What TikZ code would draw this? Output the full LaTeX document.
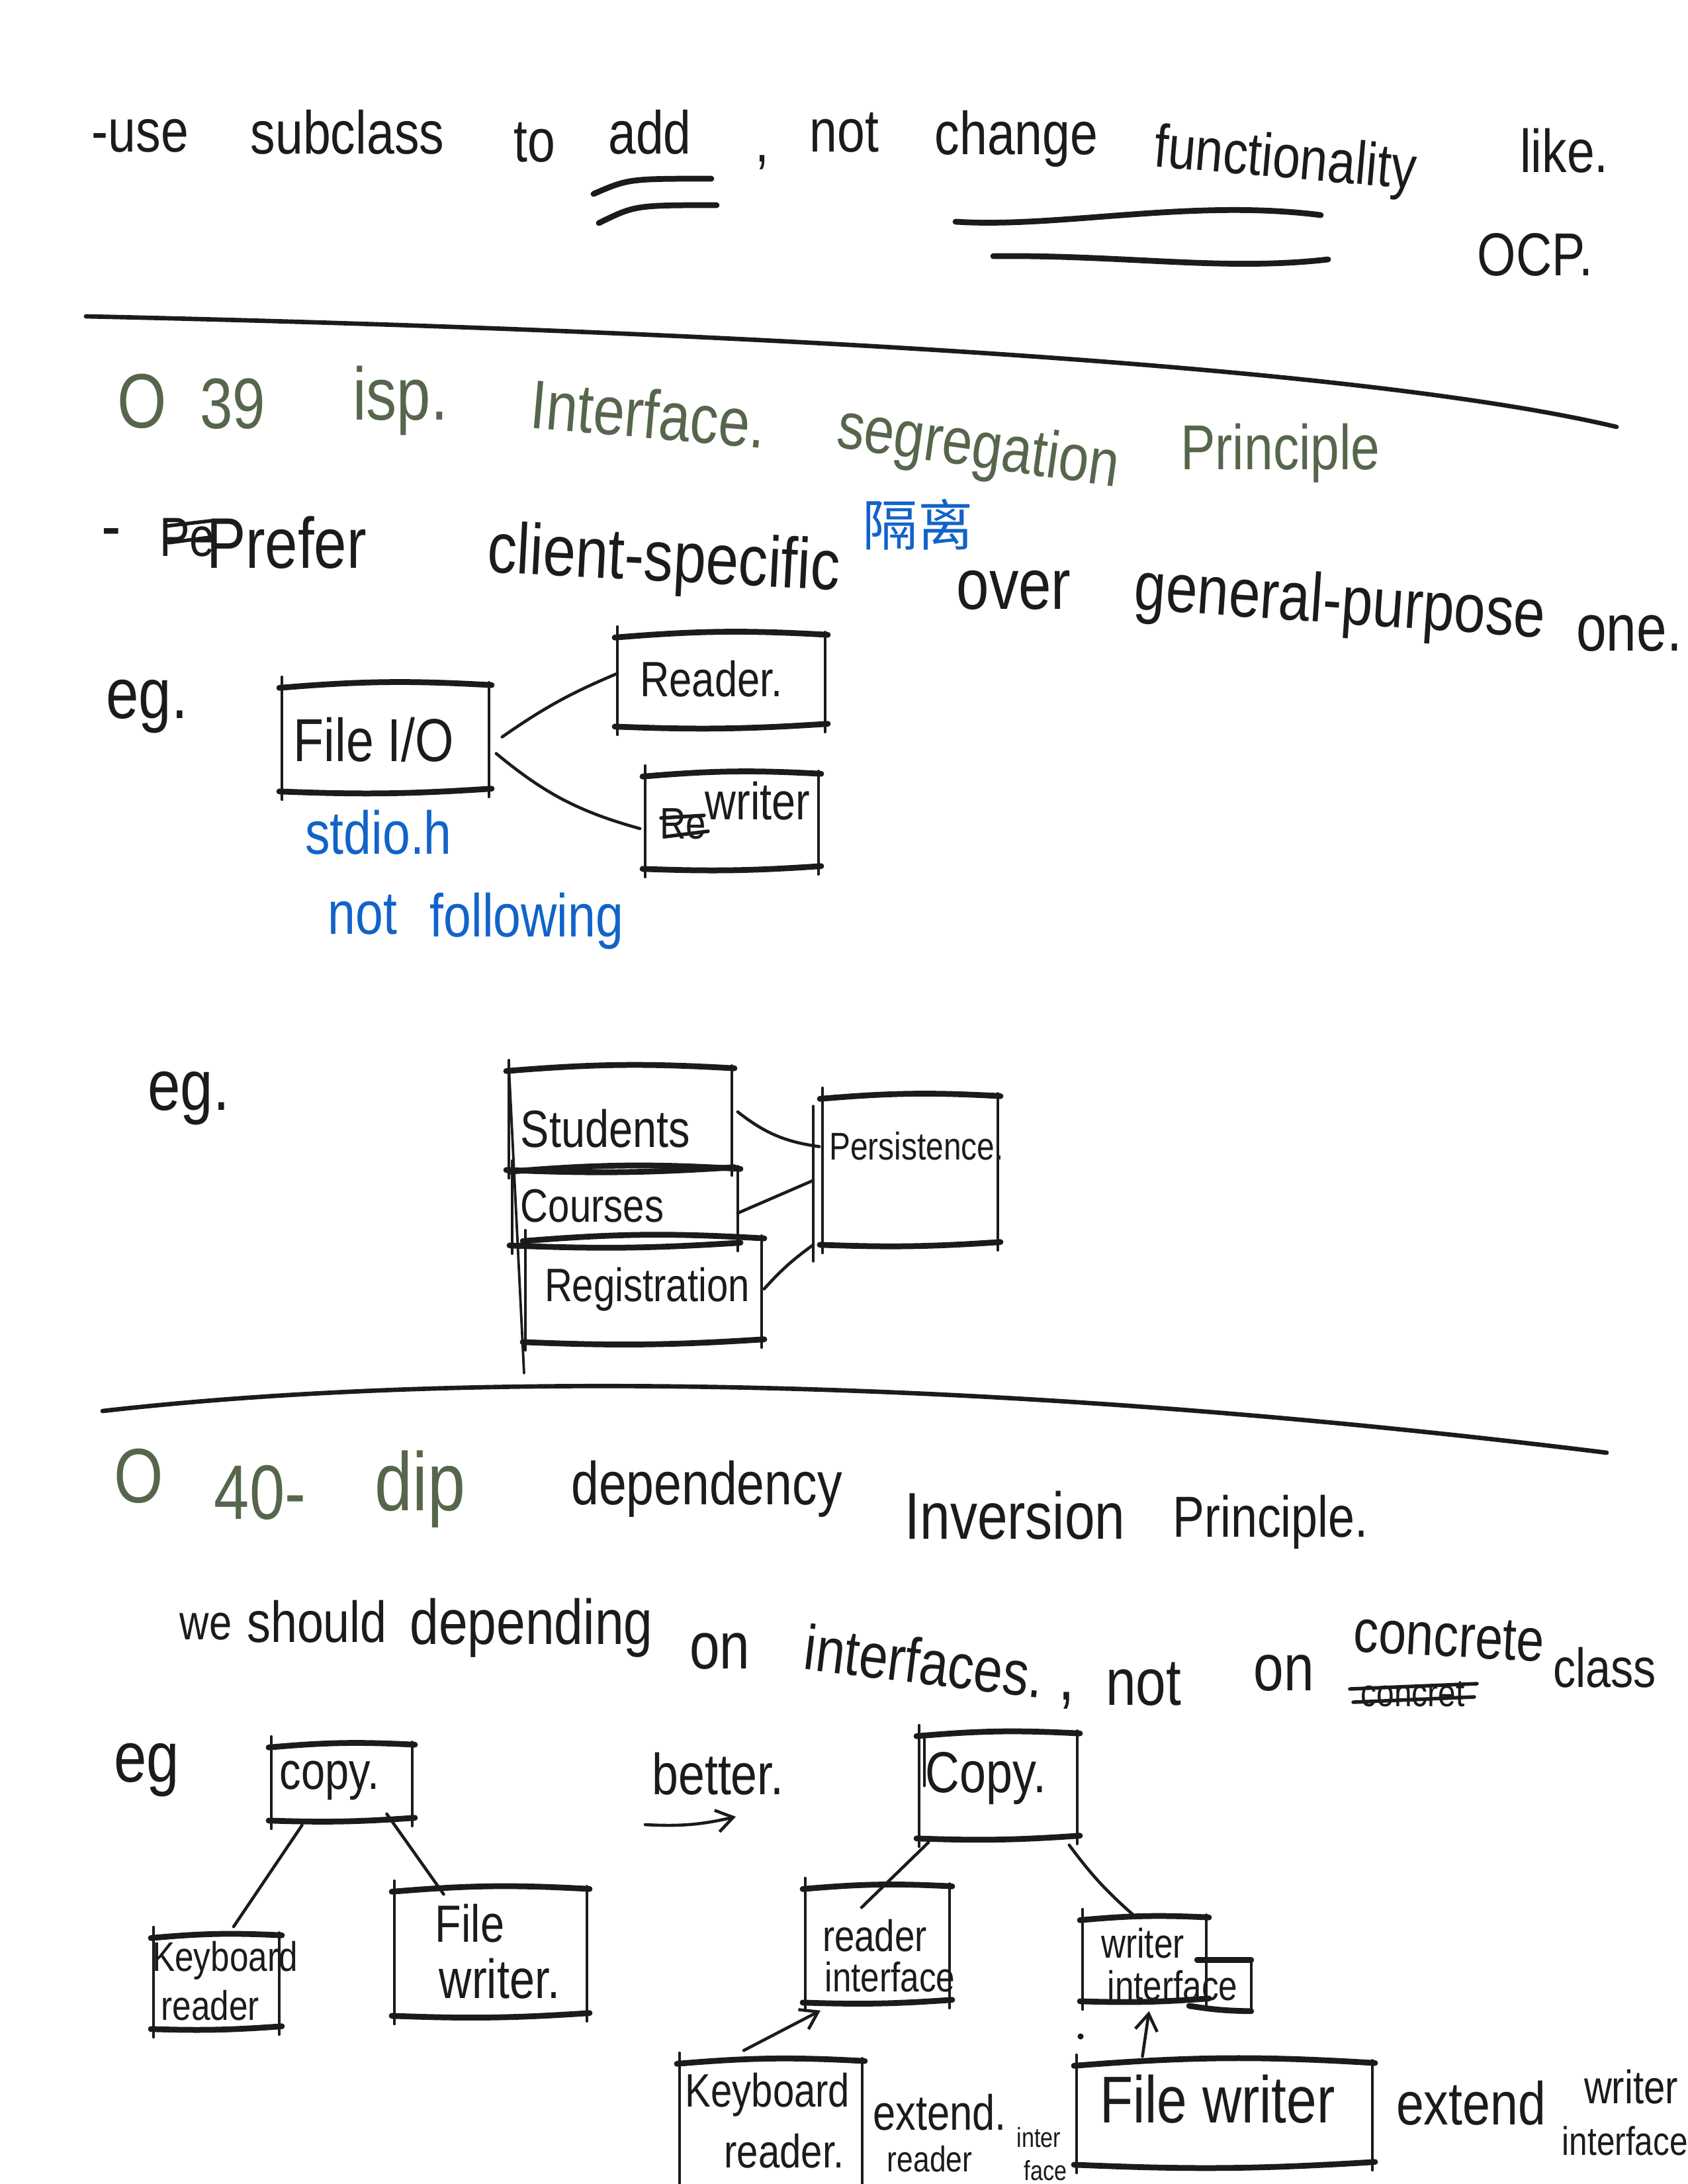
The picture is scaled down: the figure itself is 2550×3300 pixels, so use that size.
\documentclass[tikz,border=0pt]{standalone}
\usepackage{fontspec}
\usepackage{graphicx}
\setmainfont{Liberation Sans}[FakeStretch=0.82]
\newfontfamily\cjk{Noto Sans CJK SC}
\usetikzlibrary{fit,calc,arrows.meta}
\definecolor{inkc}{HTML}{1B1B1B}
\definecolor{titlegreen}{HTML}{56664C}
\definecolor{penblue}{HTML}{1263C9}
\newcommand\fs[1]{\fontsize{#1}{#1}\selectfont}
\tikzset{
  w/.style={inner sep=0pt, text=inkc, font=\fs{#1}},
  w/.default=22,
  tw/.style={inner sep=0pt, text=titlegreen, font=\fs{#1}},
  tw/.default=25,
  bw/.style={inner sep=0pt, text=penblue, font=\fs{#1}},
  bw/.default=22,
  boxarea/.style={inner sep=0pt, draw=none},
  thickstroke/.style={line width=2.1pt, line cap=round, draw=inkc},
  thinstroke/.style={line width=0.9pt, line cap=round, draw=inkc},
  conn/.style={line width=1.1pt, line cap=round, draw=inkc},
  rulestroke/.style={line width=1.6pt, line cap=round, draw=inkc},
  strike/.style={line width=1.3pt, line cap=round, draw=inkc},
  openarrow/.style={conn, -{Straight Barb[length=6pt,width=8pt]}}
}
\newcommand\skbox[1]{%
  \draw[thickstroke] ([xshift=-1pt,yshift=-1pt]#1.north west) to[bend left=4] ([xshift=1pt]#1.north east);
  \draw[thickstroke] ([xshift=-1pt]#1.south west) to[bend right=3] ([xshift=1pt,yshift=1pt]#1.south east);
  \draw[thinstroke] ([yshift=3pt]#1.north west) -- ([yshift=-3pt]#1.south west);
  \draw[thinstroke] ([yshift=1pt]#1.north east) -- ([yshift=-2pt]#1.south east);
}
\begin{document}
\begin{tikzpicture}[x=0.24pt,y=-0.24pt]
\useasboundingbox[fill=white] (0,0) rectangle (2550,3300);

% ---------- header line ----------
\node[w] (h1) at (212,205) {-use};
\node[w] (h2) at (525,200) {subclass};
\node[w] (h3) at (808,215) {to};
\node[w] (h4) at (982,200) {add};
\node[w] (h5) at (1152,245) {,};
\node[w] (h6) at (1276,200) {not};
\node[w] (h7) at (1536,210) {change};
\node[w,rotate=-5] (h8) at (1942,245) {functionality};
\node[w] (h9) at (2364,228) {like.};
\node[w] (h10) at (2320,385) {OCP.};
\draw[thickstroke] (897,293) .. controls (950,270) .. (1075,270);
\draw[thickstroke] (905,337) .. controls (960,310) .. (1083,310);
\draw[thickstroke] (1444,335) .. controls (1600,345) and (1800,300) .. (1996,325);
\draw[thickstroke] (1501,387) .. controls (1700,385) and (1850,410) .. (2007,392);

% ---------- divider 1 ----------
\draw[rulestroke] (130,478) .. controls (900,495) and (2000,540) .. (2443,645);

% ---------- title ISP ----------
\node[tw=28] (t1a) at (215,606) {O};
\node[tw=26] (t1b) at (352,610) {39};
\node[tw=27] (t1c) at (605,605) {isp.};
\node[tw,rotate=-5] (t1d) at (980,625) {Interface.};
\node[tw=24,rotate=-8] (t1e) at (1478,680) {segregation};
\node[tw=23] (t1f) at (1935,685) {Principle};

% ---------- prefer line ----------
\node[w=26] (p0) at (168,815) {-};
\node[w=20] (pe) at (283,812) {Pe};
\draw[strike] (250,795) -- (318,787);
\draw[strike] (255,820) -- (316,812);
\node[w=26] (p1) at (433,820) {Prefer};
\node[w=26,rotate=-3] (p2) at (1003,850) {client-specific};
\node[bw=20, font=\cjk\fs{20}] (p3) at (1387,793) {隔离};
\node[w=26] (p4) at (1532,892) {over};
\node[w=25,rotate=-4] (p5) at (2025,915) {general-purpose};
\node[w=24] (p6) at (2462,957) {one.};

% ---------- eg 1 ----------
\node[w=26] (eg1) at (222,1068) {eg.};
\node[boxarea, fit={(427,1036)(738,1195)}] (fileio) {};
\node[w=22] (fileiot) at (565,1118) {File I/O};
\node[boxarea, fit={(934,960)(1246,1097)}] (reader) {};
\node[w=18] (readert) at (1075,1026) {Reader.};
\node[boxarea, fit={(976,1170)(1236,1312)}] (writer) {};
\node[w=16] (writerre) at (1032,1245) {Re};
\draw[strike] (999,1236) -- (1064,1232);
\draw[strike] (1007,1264) -- (1070,1256);
\node[w=19] (writert) at (1145,1210) {writer};
\skbox{fileio}
\skbox{reader}
\skbox{writer}
\draw[conn] ($(fileio.east)+(20,-2)$) to[bend left=6] ($(reader.west)+(0,-11)$);
\draw[conn] ($(fileio.east)+(11,23)$) to[bend right=12] ($(writer.west)+(-8,11)$);
\node[bw=22] (stdio) at (572,1258) {stdio.h};
\node[bw=22] (notf) at (548,1382) {not};
\node[bw=22] (follw) at (796,1392) {following};

% ---------- eg 2 ----------
\node[w=26] (eg2) at (285,1660) {eg.};
\node[boxarea, fit={(770,1615)(1105,1767)}] (students) {};
\node[w=19] (studentst) at (915,1705) {Students};
\node[boxarea, fit={(775,1767)(1114,1881)}] (courses) {};
\node[w=17] (coursest) at (895,1822) {Courses};
\node[boxarea, fit={(795,1872)(1150,2027)}] (regist) {};
\node[w=17] (registt) at (978,1948) {Registration};
\node[boxarea, fit={(1244,1657)(1507,1880)}] (persist) {};
\node[w=14] (persistt) at (1385,1732) {Persistence.};
\skbox{students}
\skbox{courses}
\skbox{regist}
\skbox{persist}
\coordinate (stackend) at (792,2075);
\draw[thinstroke] (students.north west) -- (stackend);
\draw[thinstroke] ($(persist.north west)+(-14,15)$) -- ($(persist.south west)+(-14,25)$);
\draw[conn] ($(students.east)+(9,-11)$) to[bend right=15] ($(persist.west)+(-5,-36)$);
\draw[conn] ($(courses.east)+(0,9)$) -- ($(persist.west)+(-14,15)$);
\draw[conn] ($(regist.east)+(4,-2)$) to[bend left=6] ($(persist.south west)+(-14,0)$);

% ---------- divider 2 ----------
\draw[rulestroke] (155,2132) .. controls (700,2070) and (1500,2080) .. (2428,2195);

% ---------- title DIP ----------
\node[tw=28] (t2a) at (210,2230) {O};
\node[tw=28] (t2b) at (393,2255) {40-};
\node[tw=30] (t2c) at (635,2250) {dip};
\node[w=22] (t2d) at (1068,2250) {dependency};
\node[w=24] (t2e) at (1534,2290) {Inversion};
\node[w=21] (t2f) at (1920,2300) {Principle.};

% ---------- depend line ----------
\node[w=18] (d1) at (311,2458) {we};
\node[w=21] (d2) at (479,2450) {should};
\node[w=23] (d3) at (803,2460) {depending};
\node[w=24] (d4) at (1088,2495) {on};
\node[w=23,rotate=-7] (d5) at (1397,2510) {interfaces.};
\node[w=26] (d6) at (1612,2570) {,};
\node[w=24] (d7) at (1728,2545) {not};
\node[w=24] (d8) at (1940,2528) {on};
\node[w=14] (d9) at (2135,2560) {concret};
\draw[strike] (2040,2552) -- (2232,2544);
\draw[strike] (2045,2572) -- (2228,2564);
\node[w=22,rotate=-3] (d10) at (2190,2474) {concrete};
\node[w=20] (d11) at (2425,2520) {class};

% ---------- eg 3 left ----------
\node[w=26] (eg3) at (222,2675) {eg};
\node[boxarea, fit={(411,2637)(622,2750)}] (copya) {};
\node[w=19] (copyat) at (498,2690) {copy.};
\node[boxarea, fit={(233,2925)(421,3065)}] (kba) {};
\node[w=15] (kbat1) at (340,2962) {Keyboard};
\node[w=15] (kbat2) at (318,3030) {reader};
\node[boxarea, fit={(597,2855)(886,3045)}] (fwa) {};
\node[w=19] (fwat1) at (710,2906) {File};
\node[w=20] (fwat2) at (755,2990) {writer.};
\skbox{copya}
\skbox{kba}
\skbox{fwa}
\draw[conn] ($(copya.south)+(-60,7)$) -- ($(kba.north)+(26,-13)$);
\draw[conn] ($(copya.south)+(68,-10)$) -- ($(fwa.north)+(-71,8)$);

% better arrow
\node[w=21] (better) at (1085,2680) {better.};
\coordinate (barrs) at (975,2757);
\coordinate (barre) at (1112,2745);
\draw[openarrow] (barrs) to[bend right=8] (barre);

% ---------- eg 3 right ----------
\node[boxarea, fit={(1390,2620)(1627,2777)}] (copyb) {};
\node[w=21] (copybt) at (1490,2687) {Copy.};
\node[boxarea, fit={(1218,2851)(1434,3025)}] (rdri) {};
\node[w=16] (rdrit1) at (1322,2925) {reader};
\node[w=15] (rdrit2) at (1345,2987) {interface};
\node[boxarea, fit={(1637,2898)(1822,3023)}] (wrti) {};
\node[boxarea, fit={(1810,2962)(1890,3038)}] (wrtix) {};
\node[w=15] (wrtit1) at (1727,2936) {writer};
\node[w=15] (wrtit2) at (1772,3000) {interface};
\skbox{copyb}
\skbox{rdri}
\skbox{wrti}
\draw[thickstroke] (wrtix.north west) -- (wrtix.north east);
\draw[thinstroke] (wrtix.north east) -- (wrtix.south east);
\draw[thickstroke] ($(wrtix.south west)+(-12,-8)$) to[bend right=4] (wrtix.south east);
\draw[thinstroke] ($(copyb.north west)+(8,8)$) -- ($(copyb.west)+(8,0)$);
\draw[conn] ($(copyb.south west)+(14,6)$) -- ($(rdri.north)+(-24,32)$);
\draw[conn] ($(copyb.south east)+(-12,10)$) to[bend right=6] ($(wrti.north)+(-16,-3)$);

\node[boxarea, fit={(1028,3115)(1302,3320)}] (kbb) {};
\node[w=17] (kbbt1) at (1160,3165) {Keyboard};
\node[w=17] (kbbt2) at (1185,3250) {reader.};
\node[boxarea, fit={(1628,3118)(2073,3270)}] (fwb) {};
\node[w=24] (fwbt) at (1840,3172) {File writer};
\skbox{kbb}
\skbox{fwb}
\draw[openarrow] ($(kbb.north)+(-41,-16)$) -- ($(rdri.south)+(-86,12)$);
\draw[openarrow] ($(fwb.north)+(-124,-10)$) -- ($(wrti.south)+(7,15)$);
\fill[inkc] (1633,3077) circle[radius=1.1pt];

\node[w=18] (ext1) at (1420,3192) {extend.};
\node[w=13] (ext1b) at (1405,3262) {reader};
\node[w=10] (ext1c) at (1570,3230) {inter};
\node[w=10] (ext1d) at (1580,3280) {face};
\node[w=22] (ext2) at (2223,3178) {extend};
\node[w=17] (ext2b) at (2465,3153) {writer};
\node[w=14.5, anchor=west] (ext2c) at (2360,3235) {interface};
\end{tikzpicture}
\end{document}
